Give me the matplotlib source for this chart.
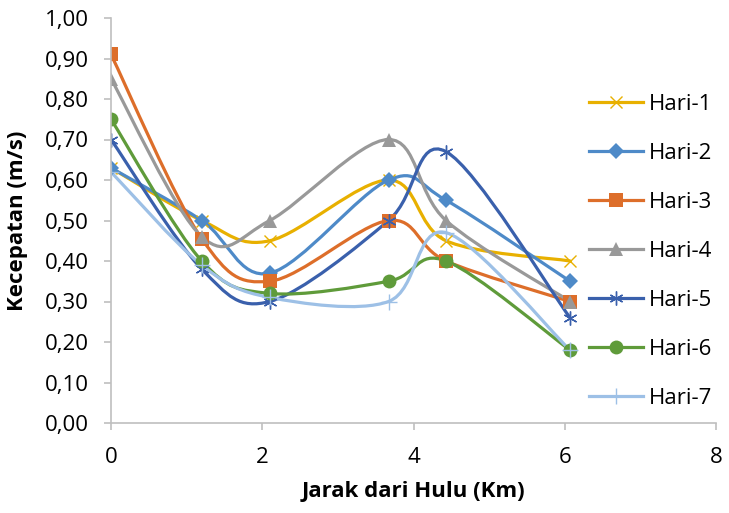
import matplotlib.pyplot as plt
from matplotlib.path import Path
from matplotlib.patches import PathPatch
from matplotlib.ticker import FuncFormatter
import numpy as np

plt.rcParams['font.family'] = ['Open Sans', 'DejaVu Sans']

jarak = [0, 1.2, 2.1, 3.67, 4.43, 6.07]

hari_1 = [0.63, 0.50, 0.45, 0.60, 0.45, 0.40]
hari_2 = [0.63, 0.50, 0.37, 0.60, 0.55, 0.35]
hari_3 = [0.91, 0.455, 0.35, 0.50, 0.40, 0.30]
hari_4 = [0.85, 0.46, 0.50, 0.70, 0.50, 0.30]
hari_5 = [0.70, 0.38, 0.30, 0.50, 0.67, 0.26]
hari_6 = [0.75, 0.40, 0.32, 0.35, 0.40, 0.18]
hari_7 = [0.62, 0.39, 0.31, 0.30, 0.47, 0.18]

labels = ['Hari-1', 'Hari-2', 'Hari-3', 'Hari-4', 'Hari-5', 'Hari-6', 'Hari-7']
series = [hari_1, hari_2, hari_3, hari_4, hari_5, hari_6, hari_7]
colors = ['#E8B000', '#4E8AC8', '#DD6E2A', '#999999', '#3A60AC', '#5F9B3A', '#9DC0E6']
markers = ['x', 'D', 's', '^', (6, 2, 0), 'o', '+']
msizes = [9, 8, 10, 10, 10, 10, 12]


def smooth_path(x, y):
  # excel-style smoothed line: bezier through each point
  pts = np.column_stack([x, y])
  n = len(pts)
  verts = [pts[0]]
  codes = [Path.MOVETO]
  for i in range(n - 1):
    p0 = pts[max(i - 1, 0)]
    p1 = pts[i]
    p2 = pts[i + 1]
    p3 = pts[min(i + 2, n - 1)]
    verts += [p1 + (p2 - p0) / 6, p2 - (p3 - p1) / 6, p2]
    codes += [Path.CURVE4] * 3
  return Path(verts, codes)


fig = plt.figure(figsize=(7.29, 5.13), dpi=100)
ax = fig.add_axes([111 / 729, 1 - 423 / 513, 605 / 729, 405 / 513])

handles = []
for vals, lab, c, m, ms in zip(series, labels, colors, markers, msizes):
  ax.add_patch(PathPatch(smooth_path(jarak, vals), facecolor='none',
                         edgecolor=c, lw=2.3, capstyle='round'))
  mew = 1.0 if m in ('x', '+') or isinstance(m, tuple) else 0
  ax.plot(jarak, vals, ls='none', marker=m, ms=ms, color=c, mew=mew, mec=c)
  handles.append(plt.Line2D([], [], color=c, lw=2.3, marker=m, ms=ms,
                            mew=mew, mec=c))

ax.set_xlim(0, 8)
ax.set_ylim(0, 1.0)
ax.set_xticks([0, 2, 4, 6, 8])
ax.set_yticks(np.arange(0, 1.01, 0.1))
ax.yaxis.set_major_formatter(FuncFormatter(lambda v, p: f'{v:.2f}'.replace('.', ',')))
ax.tick_params(labelsize=16, color='#BFBFBF', length=5, width=1.2)
ax.tick_params(axis='x', pad=12)
ax.tick_params(axis='y', pad=11)
for s in ['top', 'right']:
  ax.spines[s].set_visible(False)
for s in ['left', 'bottom']:
  ax.spines[s].set_color('#BFBFBF')
  ax.spines[s].set_linewidth(1.2)

ax.set_xlabel('Jarak dari Hulu (Km)', fontsize=16, fontweight='bold')
ax.set_ylabel('Kecepatan (m/s)', fontsize=16, fontweight='bold')
ax.xaxis.set_label_coords(0.5, -0.143)
ax.yaxis.set_label_coords(-0.137, 0.5)

fig.legend(handles, labels, loc='upper left', bbox_to_anchor=(589 / 729, 1 - 94 / 513),
           frameon=False, fontsize=16, labelspacing=1.26, handlelength=2.45,
           handletextpad=0.25, borderaxespad=0, borderpad=0)

fig.savefig('out.png', dpi=100)
